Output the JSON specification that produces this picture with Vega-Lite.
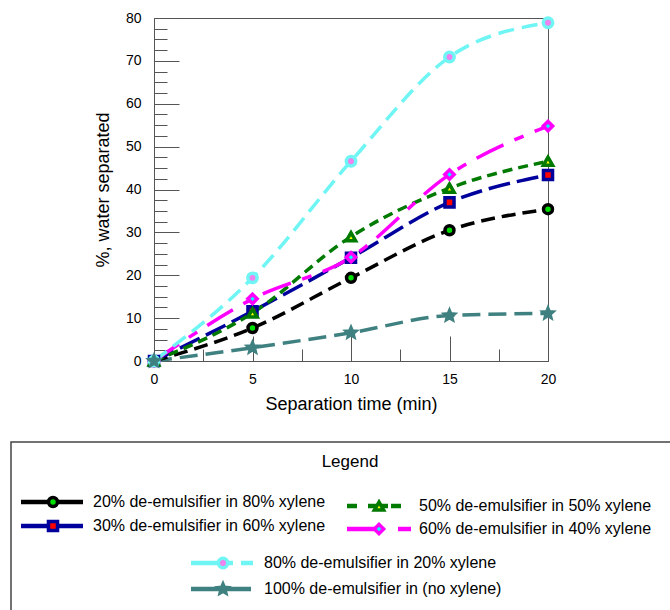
{
  "$schema": "https://vega.github.io/schema/vega-lite/v6.json",
  "autosize": {"type": "pad"},
  "padding": {"left": 10, "top": 11, "right": 0, "bottom": 0},
  "background": "white",
  "width": 394,
  "height": 343,
  "view": {"stroke": "#555", "strokeWidth": 1},
  "config": {
    "font": "Liberation Sans",
    "axis": {"labelFont": "Liberation Sans", "titleFont": "Liberation Sans", "labelColor": "black", "titleColor": "black", "domainColor": "#555", "tickColor": "#555", "grid": false, "titleFontWeight": "normal"},
    "text": {"font": "Liberation Sans"}
  },
  "data": {"values": [
      {"series": "20%", "t": 0, "pct": 0}, {"series": "20%", "t": 5, "pct": 7.7}, {"series": "20%", "t": 10, "pct": 19.4}, {"series": "20%", "t": 15, "pct": 30.5}, {"series": "20%", "t": 20, "pct": 35.4},
      {"series": "30%", "t": 0, "pct": 0}, {"series": "30%", "t": 5, "pct": 11.6}, {"series": "30%", "t": 10, "pct": 24.1}, {"series": "30%", "t": 15, "pct": 37.0}, {"series": "30%", "t": 20, "pct": 43.4},
      {"series": "50%", "t": 0, "pct": 0}, {"series": "50%", "t": 5, "pct": 11.2}, {"series": "50%", "t": 10, "pct": 29.0}, {"series": "50%", "t": 15, "pct": 40.3}, {"series": "50%", "t": 20, "pct": 46.6},
      {"series": "60%", "t": 0, "pct": 0}, {"series": "60%", "t": 5, "pct": 14.5}, {"series": "60%", "t": 10, "pct": 24.2}, {"series": "60%", "t": 15, "pct": 43.5}, {"series": "60%", "t": 20, "pct": 54.8},
      {"series": "80%", "t": 0, "pct": 0}, {"series": "80%", "t": 5, "pct": 19.4}, {"series": "80%", "t": 10, "pct": 46.6}, {"series": "80%", "t": 15, "pct": 70.9}, {"series": "80%", "t": 20, "pct": 78.9},
      {"series": "100%", "t": 0, "pct": 0}, {"series": "100%", "t": 5, "pct": 3.1}, {"series": "100%", "t": 10, "pct": 6.6}, {"series": "100%", "t": 15, "pct": 10.6}, {"series": "100%", "t": 20, "pct": 11.1}
  ]},
  "layer": [
    {
      "transform": [{"filter": {"field": "series", "equal": "100%"}}],
      "mark": {"type": "line", "interpolate": "monotone", "strokeWidth": 3.5, "color": "#3f8080", "strokeDash": [18, 8]},
      "encoding": {
        "x": {"field": "t", "type": "quantitative", "scale": {"domain": [0, 20], "nice": false},
          "axis": {"values": [0, 5, 10, 15, 20], "tickSize": -25, "labelPadding": 36, "labelFontSize": 14, "title": "Separation time (min)", "titleFontSize": 18, "titlePadding": 9, "orient": "bottom", "labelFlush": false}},
        "y": {"field": "pct", "type": "quantitative", "scale": {"domain": [0, 80], "nice": false},
          "axis": {"values": [0, 10, 20, 30, 40, 50, 60, 70, 80], "tickSize": -25, "labelPadding": 38, "labelFontSize": 14, "title": "%, water separated", "titleFontSize": 18, "titlePadding": 13, "orient": "left"}}
      }
    },
    {
      "transform": [{"filter": {"field": "series", "equal": "20%"}}],
      "mark": {"type": "line", "interpolate": "monotone", "strokeWidth": 3.5, "color": "#000000", "strokeDash": [14, 7]},
      "encoding": {
        "x": {"field": "t", "type": "quantitative", "scale": {"domain": [0, 20], "nice": false}, "axis": null},
        "y": {"field": "pct", "type": "quantitative", "scale": {"domain": [0, 80], "nice": false}, "axis": null}
      }
    },
    {
      "transform": [{"filter": {"field": "series", "equal": "30%"}}],
      "mark": {"type": "line", "interpolate": "monotone", "strokeWidth": 3.5, "color": "#00009c", "strokeDash": [22, 7]},
      "encoding": {
        "x": {"field": "t", "type": "quantitative", "scale": {"domain": [0, 20], "nice": false}, "axis": null},
        "y": {"field": "pct", "type": "quantitative", "scale": {"domain": [0, 80], "nice": false}, "axis": null}
      }
    },
    {
      "transform": [{"filter": {"field": "series", "equal": "50%"}}],
      "mark": {"type": "line", "interpolate": "monotone", "strokeWidth": 3.5, "color": "#007a00", "strokeDash": [10, 6]},
      "encoding": {
        "x": {"field": "t", "type": "quantitative", "scale": {"domain": [0, 20], "nice": false}, "axis": null},
        "y": {"field": "pct", "type": "quantitative", "scale": {"domain": [0, 80], "nice": false}, "axis": null}
      }
    },
    {
      "transform": [{"filter": {"field": "series", "equal": "60%"}}],
      "mark": {"type": "line", "interpolate": "monotone", "strokeWidth": 3.5, "color": "#ff00ff", "strokeDash": [30, 12, 10, 12]},
      "encoding": {
        "x": {"field": "t", "type": "quantitative", "scale": {"domain": [0, 20], "nice": false}, "axis": null},
        "y": {"field": "pct", "type": "quantitative", "scale": {"domain": [0, 80], "nice": false}, "axis": null}
      }
    },
    {
      "transform": [{"filter": {"field": "series", "equal": "80%"}}],
      "mark": {"type": "line", "interpolate": "monotone", "strokeWidth": 3.5, "color": "#70f5f5", "strokeDash": [16, 8]},
      "encoding": {
        "x": {"field": "t", "type": "quantitative", "scale": {"domain": [0, 20], "nice": false}, "axis": null},
        "y": {"field": "pct", "type": "quantitative", "scale": {"domain": [0, 80], "nice": false}, "axis": null}
      }
    },
    {
      "mark": {"type": "point", "strokeWidth": 3.5, "opacity": 1},
      "encoding": {
        "x": {"field": "t", "type": "quantitative", "scale": {"domain": [0, 20], "nice": false},
          "axis": {"values": [2.5, 7.5, 12.5, 17.5], "tickSize": -12, "labels": false, "domain": false, "title": null, "orient": "bottom"}},
        "y": {"field": "pct", "type": "quantitative", "scale": {"domain": [0, 80], "nice": false},
          "axis": {"values": [2.5, 5, 7.5, 12.5, 15, 17.5, 22.5, 25, 27.5, 32.5, 35, 37.5, 42.5, 45, 47.5, 52.5, 55, 57.5, 62.5, 65, 67.5, 72.5, 75, 77.5], "tickSize": -13, "labels": false, "domain": false, "title": null, "orient": "left"}},
        "shape": {"field": "series", "type": "nominal", "legend": null,
          "scale": {"domain": ["20%", "30%", "50%", "60%", "80%", "100%"], "range": ["circle", "square", "triangle-up", "diamond", "circle", "M0,-1L0.265,-0.364L0.951,-0.309L0.428,0.139L0.588,0.809L0,0.45L-0.588,0.809L-0.428,0.139L-0.951,-0.309L-0.265,-0.364Z"]}},
        "stroke": {"field": "series", "type": "nominal", "legend": null,
          "scale": {"domain": ["20%", "30%", "50%", "60%", "80%", "100%"], "range": ["#000000", "#00009c", "#007a00", "#ff00ff", "#70f5f5", "#3f8080"]}},
        "fill": {"field": "series", "type": "nominal", "legend": null,
          "scale": {"domain": ["20%", "30%", "50%", "60%", "80%", "100%"], "range": ["#00e000", "#ff0000", "#ffff00", "#00ffff", "#ee82ee", "#3f8080"]}},
        "size": {"field": "series", "type": "nominal", "legend": null,
          "scale": {"domain": ["20%", "30%", "50%", "60%", "80%", "100%"], "range": [80, 90, 90, 90, 90, 130]}}
      }
    },
    {
      "data": {"values": [{"x1": 0, "x2": 680, "y1": 0, "y2": 180}]},
      "mark": {"type": "rect", "filled": false, "stroke": "#444", "strokeWidth": 1.5},
      "encoding": {
        "x": {"field": "x1", "type": "quantitative", "scale": {"domain": [143, 537], "nice": false, "zero": false}, "axis": null},
        "x2": {"field": "x2"},
        "y": {"field": "y1", "type": "quantitative", "scale": {"domain": [-424, -81], "reverse": true, "nice": false, "zero": false}, "axis": null},
        "y2": {"field": "y2"}
      }
    },
    {
      "data": {"values": [
        {"series": "20%", "x1": 10, "x2": 72, "y": 60},
        {"series": "30%", "x1": 10, "x2": 72, "y": 84},
        {"series": "50%", "x1": 336, "x2": 346, "y": 64},
        {"series": "50%", "x1": 357, "x2": 377, "y": 64},
        {"series": "50%", "x1": 380, "x2": 390, "y": 64},
        {"series": "60%", "x1": 336, "x2": 370, "y": 87},
        {"series": "60%", "x1": 387, "x2": 400, "y": 87},
        {"series": "80%", "x1": 180, "x2": 222, "y": 121},
        {"series": "80%", "x1": 230, "x2": 242, "y": 121},
        {"series": "100%", "x1": 180, "x2": 240, "y": 147}
      ]},
      "mark": {"type": "rule", "strokeWidth": 4.5},
      "encoding": {
        "x": {"field": "x1", "type": "quantitative", "scale": {"domain": [143, 537], "nice": false, "zero": false}, "axis": null},
        "x2": {"field": "x2"},
        "y": {"field": "y", "type": "quantitative", "scale": {"domain": [-424, -81], "reverse": true, "nice": false, "zero": false}, "axis": null},
        "color": {"field": "series", "type": "nominal", "legend": null,
          "scale": {"domain": ["20%", "30%", "50%", "60%", "80%", "100%"], "range": ["#000000", "#00009c", "#007a00", "#ff00ff", "#70f5f5", "#3f8080"]}}
      }
    },
    {
      "data": {"values": [
        {"series": "20%", "mx": 42, "my": 60},
        {"series": "30%", "mx": 42, "my": 84},
        {"series": "50%", "mx": 368, "my": 64},
        {"series": "60%", "mx": 368, "my": 87},
        {"series": "80%", "mx": 212, "my": 121},
        {"series": "100%", "mx": 212, "my": 147}
      ]},
      "mark": {"type": "point", "strokeWidth": 3.5, "opacity": 1},
      "encoding": {
        "x": {"field": "mx", "type": "quantitative", "scale": {"domain": [143, 537], "nice": false, "zero": false}, "axis": null},
        "y": {"field": "my", "type": "quantitative", "scale": {"domain": [-424, -81], "reverse": true, "nice": false, "zero": false}, "axis": null},
        "shape": {"field": "series", "type": "nominal", "legend": null,
          "scale": {"domain": ["20%", "30%", "50%", "60%", "80%", "100%"], "range": ["circle", "square", "triangle-up", "diamond", "circle", "M0,-1L0.265,-0.364L0.951,-0.309L0.428,0.139L0.588,0.809L0,0.45L-0.588,0.809L-0.428,0.139L-0.951,-0.309L-0.265,-0.364Z"]}},
        "stroke": {"field": "series", "type": "nominal", "legend": null,
          "scale": {"domain": ["20%", "30%", "50%", "60%", "80%", "100%"], "range": ["#000000", "#00009c", "#007a00", "#ff00ff", "#70f5f5", "#3f8080"]}},
        "fill": {"field": "series", "type": "nominal", "legend": null,
          "scale": {"domain": ["20%", "30%", "50%", "60%", "80%", "100%"], "range": ["#00e000", "#ff0000", "#ffff00", "#00ffff", "#ee82ee", "#3f8080"]}},
        "size": {"field": "series", "type": "nominal", "legend": null,
          "scale": {"domain": ["20%", "30%", "50%", "60%", "80%", "100%"], "range": [80, 90, 90, 90, 90, 130]}}
      }
    },
    {
      "data": {"values": [
        {"tx": 82, "ty": 60, "label": "20% de-emulsifier in 80% xylene"},
        {"tx": 82, "ty": 84, "label": "30% de-emulsifier in 60% xylene"},
        {"tx": 408, "ty": 64, "label": "50% de-emulsifier in 50% xylene"},
        {"tx": 408, "ty": 87, "label": "60% de-emulsifier in 40% xylene"},
        {"tx": 253, "ty": 121, "label": "80% de-emulsifier in 20% xylene"},
        {"tx": 253, "ty": 147, "label": "100% de-emulsifier in (no xylene)"}
      ]},
      "mark": {"type": "text", "align": "left", "baseline": "middle", "fontSize": 16, "color": "black"},
      "encoding": {
        "x": {"field": "tx", "type": "quantitative", "scale": {"domain": [143, 537], "nice": false, "zero": false}, "axis": null},
        "y": {"field": "ty", "type": "quantitative", "scale": {"domain": [-424, -81], "reverse": true, "nice": false, "zero": false}, "axis": null},
        "text": {"field": "label"}
      }
    },
    {
      "data": {"values": [{"label": "Legend", "x": 339, "y": 20}]},
      "mark": {"type": "text", "align": "center", "baseline": "middle", "fontSize": 17, "color": "black"},
      "encoding": {
        "x": {"field": "x", "type": "quantitative", "scale": {"domain": [143, 537], "nice": false, "zero": false}, "axis": null},
        "y": {"field": "y", "type": "quantitative", "scale": {"domain": [-424, -81], "reverse": true, "nice": false, "zero": false}, "axis": null},
        "text": {"field": "label"}
      }
    }
  ],
  "resolve": {"scale": {"x": "independent", "y": "independent", "color": "independent", "shape": "independent", "stroke": "independent", "fill": "independent", "size": "independent"}, "axis": {"x": "independent", "y": "independent"}}
}
